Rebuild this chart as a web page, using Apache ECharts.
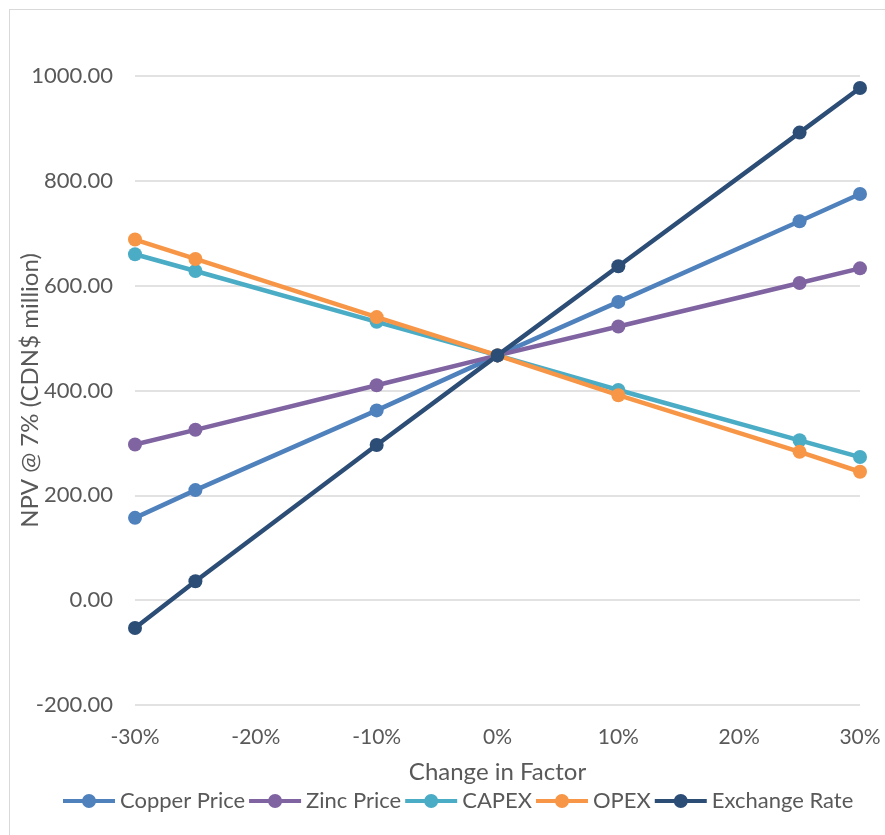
<!DOCTYPE html>
<html>
<head>
<meta charset="utf-8">
<script src="https://cdn.jsdelivr.net/npm/echarts@6/dist/echarts.min.js"></script>
<style>
  html, body { margin: 0; padding: 0; background: #fff; }
  #frame { position: absolute; left: 9px; top: 9px; width: 880px; height: 840px; border: 1px solid #d9d9d9; box-sizing: border-box; }
  #chart { position: absolute; left: 0; top: 0; width: 885px; height: 835px; }
</style>
</head>
<body>
<div id="frame"></div>
<div id="chart"></div>
<script>
// change in factor (%)
var changes = [-30, -25, -10, 0, 10, 25, 30];

var copperPrice  = [157, 210, 362, 467, 569, 723, 775];
var zincPrice    = [297, 325, 410, 467, 522, 605, 633];
var capex        = [660, 628, 531, 467, 401, 305, 273];
var opex         = [688, 651, 540, 467, 391, 283, 245];
var exchangeRate = [-53, 36, 296, 467, 637, 892, 977];

var seriesNames  = ['Copper Price', 'Zinc Price', 'CAPEX', 'OPEX', 'Exchange Rate'];
var seriesColors = ['#4f81bd', '#8064a2', '#4bacc6', '#f79646', '#2c4d75'];
var seriesData   = [copperPrice, zincPrice, capex, opex, exchangeRate];

var font = 'Lato, "Open Sans", sans-serif';
var txt = '#595959';

// legend marker: thick line with a dot in the middle
var legendIcon = 'path://M0,5H52V9H0Z M19,7a7,7 0 1,1 14,0a7,7 0 1,1 -14,0Z';

function pairs(vals) {
    var out = [];
    for (var i = 0; i < changes.length; i++) {
        out.push([changes[i], vals[i]]);
    }
    return out;
}

var series = [];
for (var s = 0; s < seriesNames.length; s++) {
    series.push({
        name: seriesNames[s],
        type: 'line',
        data: pairs(seriesData[s]),
        symbol: 'circle',
        symbolSize: 14,
        lineStyle: { width: 4.5, color: seriesColors[s] },
        itemStyle: { color: seriesColors[s] },
        z: 2 + s
    });
}

var chart = echarts.init(document.getElementById('chart'));
chart.setOption({
    animation: false,
    backgroundColor: 'transparent',
    grid: { left: 135, right: 25, top: 76, bottom: 130, containLabel: false, outerBoundsMode: 'none' },
    legend: {
        bottom: 18,
        left: 58,
        icon: legendIcon,
        itemWidth: 52,
        itemHeight: 14,
        itemGap: 4,
        textStyle: { fontFamily: font, fontSize: 22, color: txt },
        data: seriesNames
    },
    xAxis: {
        type: 'value',
        min: -30,
        max: 30,
        interval: 10,
        name: 'Change in Factor',
        nameLocation: 'middle',
        nameGap: 55,
        nameMoveOverlap: false,
        nameTextStyle: { fontFamily: font, fontSize: 24, color: txt },
        axisLine: { show: false },
        axisTick: { show: false },
        splitLine: { show: false },
        axisLabel: {
            margin: 22,
            fontFamily: font, fontSize: 21, color: txt,
            formatter: function (v) { return v + '%'; }
        }
    },
    yAxis: {
        type: 'value',
        min: -200,
        max: 1000,
        interval: 200,
        name: 'NPV @ 7% (CDN$ million)',
        nameLocation: 'middle',
        nameGap: 93,
        nameMoveOverlap: false,
        nameTextStyle: { fontFamily: font, fontSize: 24, color: txt },
        axisLine: { show: false },
        axisTick: { show: false },
        splitLine: { lineStyle: { color: '#d9d9d9', width: 1.5 } },
        axisLabel: {
            margin: 22,
            fontFamily: font, fontSize: 22, color: txt,
            formatter: function (v) { return v.toFixed(2); }
        }
    },
    series: series
});
</script>
</body>
</html>
